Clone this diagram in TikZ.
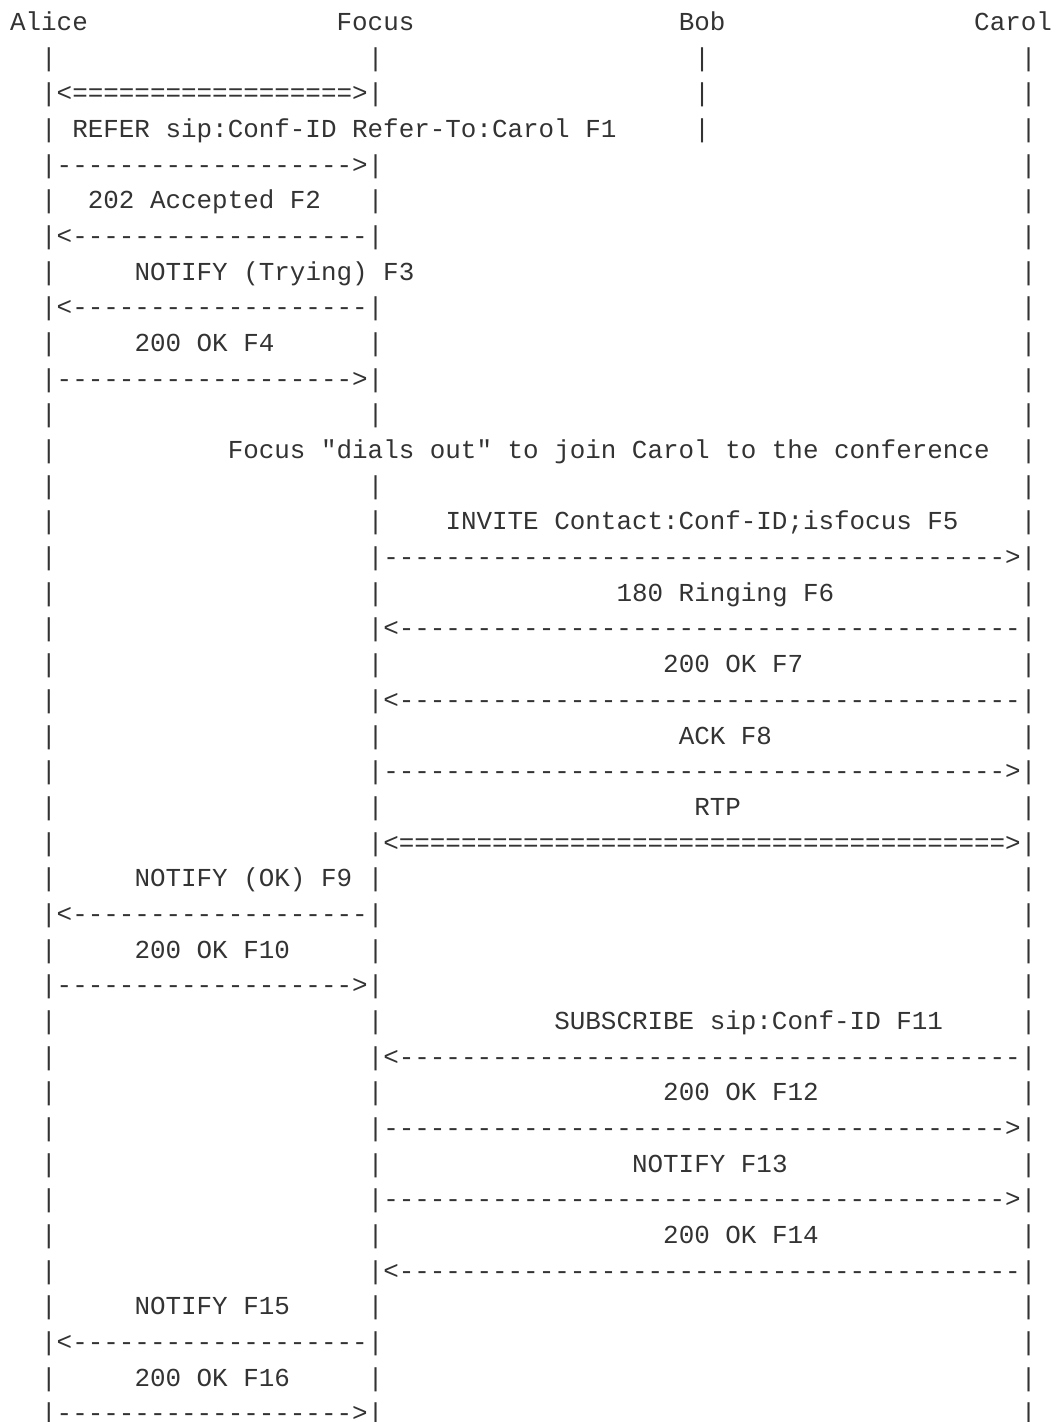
\documentclass[tikz,border=0pt]{standalone}
\usepackage{fontspec}
\setmonofont{Liberation Mono}
\usepackage{tikz}
\definecolor{ink}{RGB}{51,51,51}
\tikzstyle{asc}=[inner sep=0pt, outer sep=0pt, anchor=base west, text=ink, font=\ttfamily\fontsize{25.91}{30}\selectfont]

\begin{document}
\begin{tikzpicture}[x=15.55pt, y=-35.68pt]
\useasboundingbox (-10.1pt,30.4pt) rectangle (1049.9pt,-1391.6pt);
% parties
\node[asc] (alice) at (0,0) {Alice};
\node[asc] (focus) at (21,0) {Focus};
\node[asc] (bob) at (43,0) {Bob};
\node[asc] (carol) at (62,0) {Carol};
% lifelines
\foreach \r in {1,...,39} {
  \node[asc] (la\r) at (2,\r) {|};
  \node[asc] (lc\r) at (65,\r) {|};
}
\foreach \r in {1,2,4,5,6,8,9,10,11,13,14,15,...,39}
  \node[asc] (lf\r) at (23,\r) {|};
\foreach \r in {1,2,3}
  \node[asc] (lb\r) at (44,\r) {|};
% Alice <-> Focus
\node[asc] (a2) at (3,2) {<==================>};
\node[asc] (f1) at (4,3) {REFER sip:Conf-ID Refer-To:Carol F1};
\node[asc] (a4) at (3,4) {------------------->};
\node[asc] (f2) at (5,5) {202 Accepted F2};
\node[asc] (a6) at (3,6) {<-------------------};
\node[asc] (f3) at (8,7) {NOTIFY (Trying) F3};
\node[asc] (a8) at (3,8) {<-------------------};
\node[asc] (f4) at (8,9) {200 OK F4};
\node[asc] (a10) at (3,10) {------------------->};
\node[asc] (note) at (14,12) {Focus "dials out" to join Carol to the conference};
% Focus <-> Carol
\node[asc] (f5) at (28,14) {INVITE Contact:Conf-ID;isfocus F5};
\node[asc] (a15) at (24,15) {---------------------------------------->};
\node[asc] (f6) at (39,16) {180 Ringing F6};
\node[asc] (a17) at (24,17) {<----------------------------------------};
\node[asc] (f7) at (42,18) {200 OK F7};
\node[asc] (a19) at (24,19) {<----------------------------------------};
\node[asc] (f8) at (43,20) {ACK F8};
\node[asc] (a21) at (24,21) {---------------------------------------->};
\node[asc] (rtp) at (44,22) {RTP};
\node[asc] (a23) at (24,23) {<=======================================>};
% back to Alice
\node[asc] (f9) at (8,24) {NOTIFY (OK) F9};
\node[asc] (a25) at (3,25) {<-------------------};
\node[asc] (f10) at (8,26) {200 OK F10};
\node[asc] (a27) at (3,27) {------------------->};
% conference package
\node[asc] (f11) at (35,28) {SUBSCRIBE sip:Conf-ID F11};
\node[asc] (a29) at (24,29) {<----------------------------------------};
\node[asc] (f12) at (42,30) {200 OK F12};
\node[asc] (a31) at (24,31) {---------------------------------------->};
\node[asc] (f13) at (40,32) {NOTIFY F13};
\node[asc] (a33) at (24,33) {---------------------------------------->};
\node[asc] (f14) at (42,34) {200 OK F14};
\node[asc] (a35) at (24,35) {<----------------------------------------};
\node[asc] (f15) at (8,36) {NOTIFY F15};
\node[asc] (a37) at (3,37) {<-------------------};
\node[asc] (f16) at (8,38) {200 OK F16};
\node[asc] (a39) at (3,39) {------------------->};
\end{tikzpicture}
\end{document}
